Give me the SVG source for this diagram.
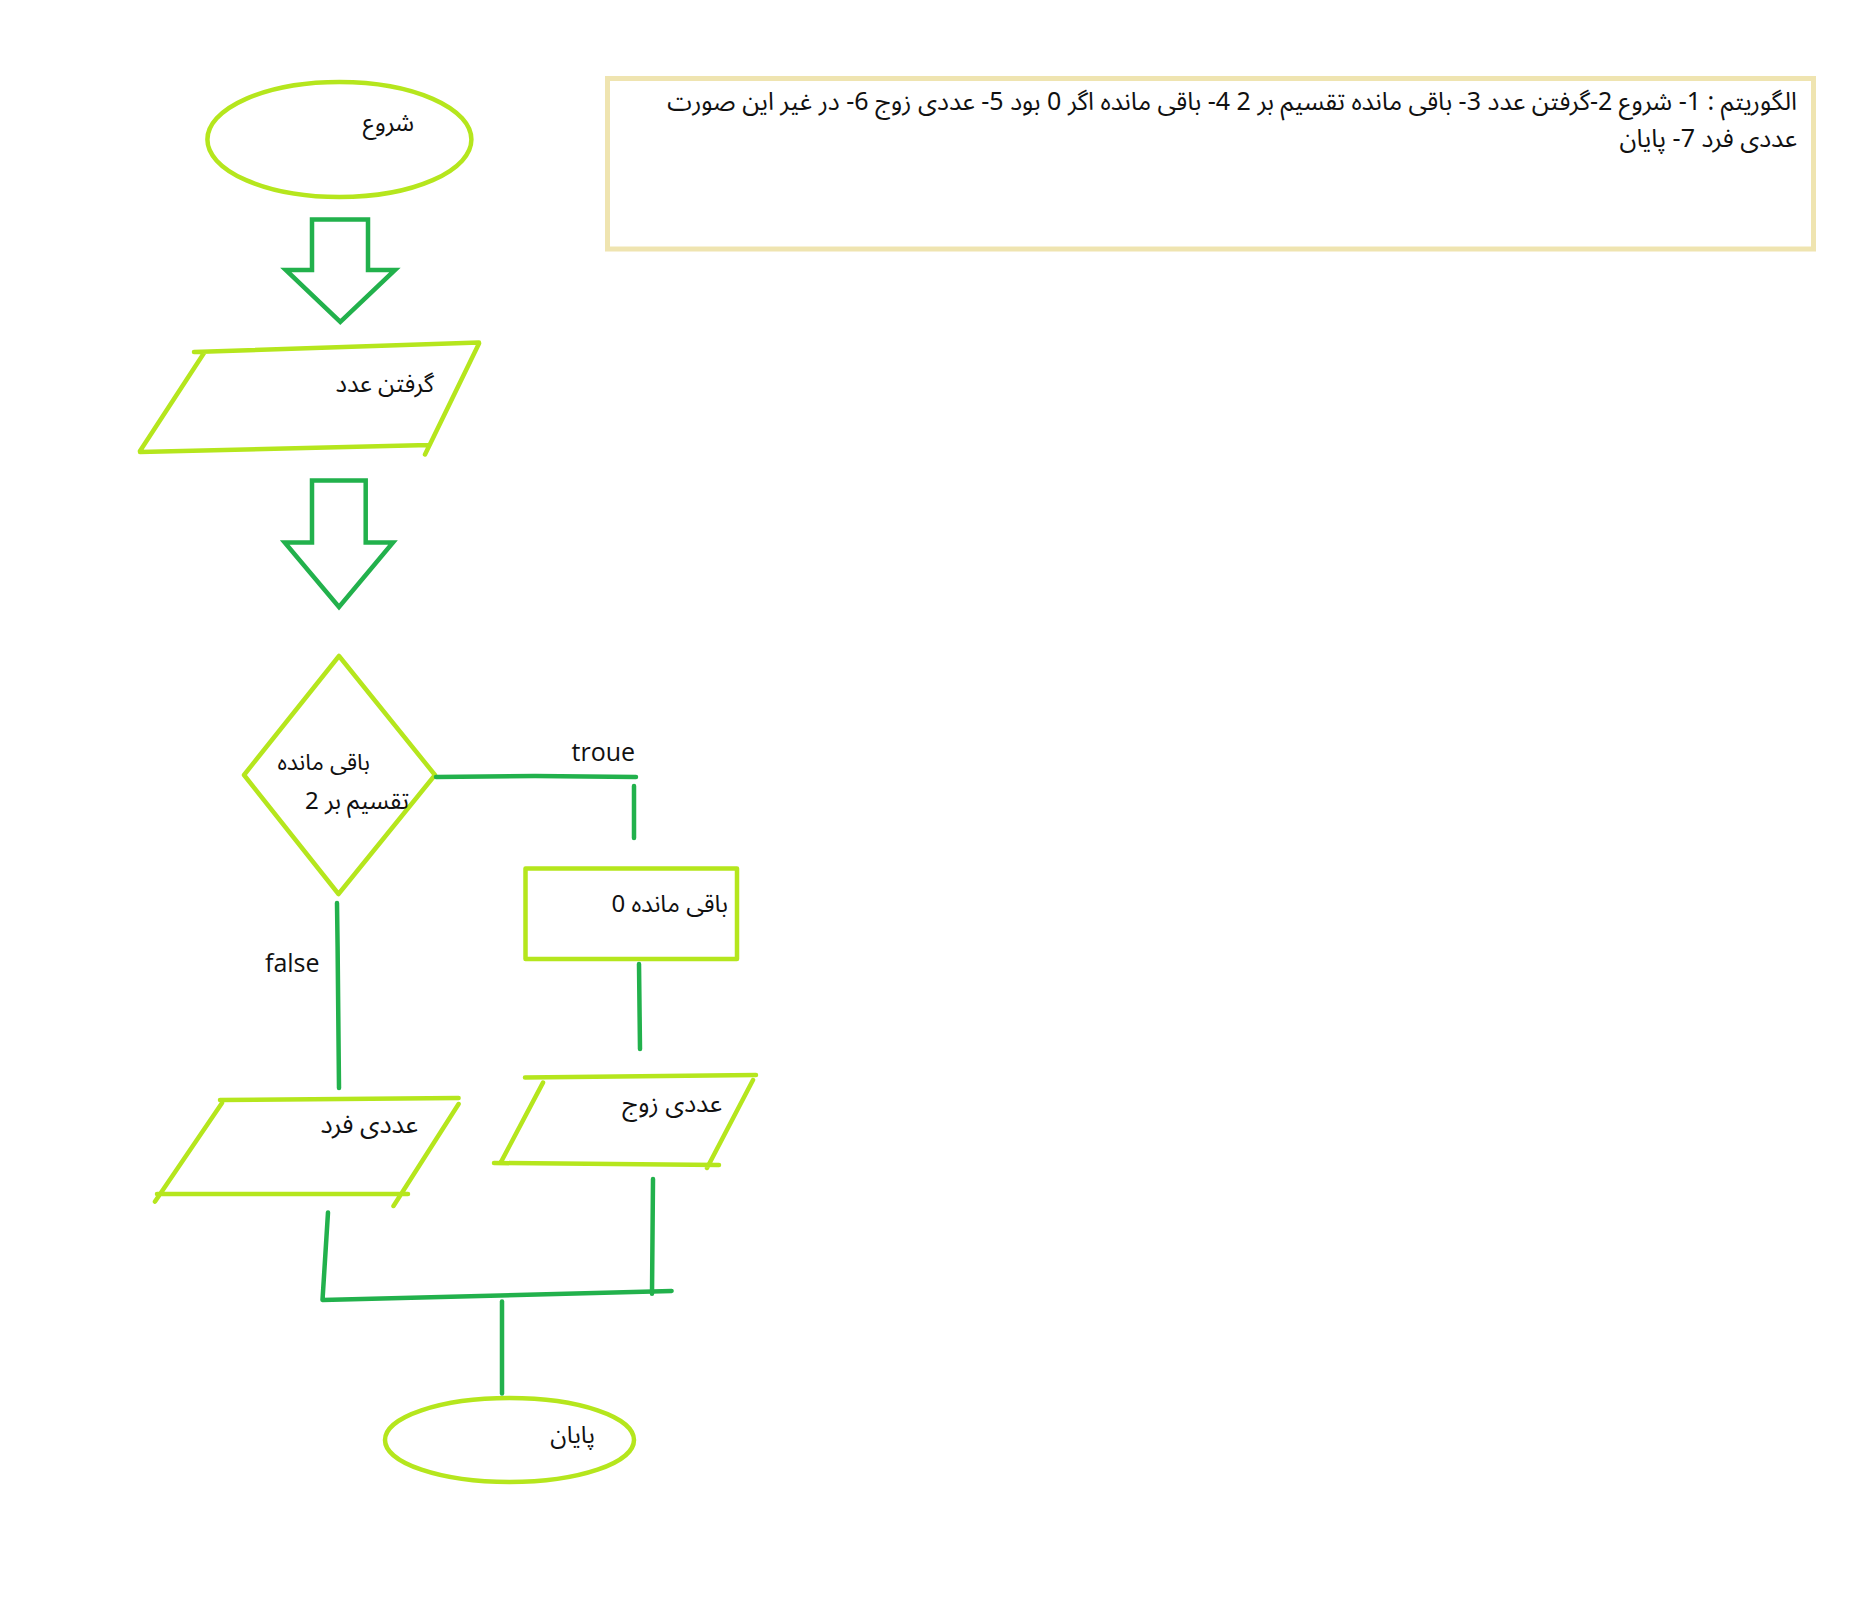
<svg xmlns="http://www.w3.org/2000/svg" width="1856" height="1621" viewBox="0 0 1856 1621">
<style>
.node{fill:none;stroke:#b5e61d;stroke-width:4.5;stroke-linecap:round;stroke-linejoin:round}
.arrow{fill:none;stroke:#22b14c;stroke-width:4.5;stroke-linejoin:miter}
.conn{fill:none;stroke:#22b14c;stroke-width:4.5;stroke-linecap:round;stroke-linejoin:round}
.fa{font-family:"Noto Sans Arabic","DejaVu Sans","Noto Sans",sans-serif;fill:#111;direction:rtl}
.en{font-family:"Open Sans","Noto Sans",sans-serif;fill:#111;font-size:25px}
</style>
<rect width="1856" height="1621" fill="#fff"/>
<g id="algorithm-box">
<rect x="607.5" y="78.5" width="1206" height="170.5" fill="none" stroke="#efe4b0" stroke-width="5"/>
<text class="fa" x="1797" y="110" font-size="25" text-anchor="start">الگوریتم : 1- شروع 2-گرفتن عدد 3- باقی مانده تقسیم بر 2 4- باقی مانده اگر 0 بود 5- عددی زوج 6- در غیر این صورت</text>
<text class="fa" x="1797" y="147" font-size="25" text-anchor="start">عددی فرد 7- پایان</text>
</g>
<g id="start">
<ellipse class="node" cx="339.4" cy="139.5" rx="132" ry="57.5"/>
<text class="fa" x="414" y="131" font-size="24" text-anchor="start">شروع</text>
</g>
<g id="arrow1">
<polygon class="arrow" points="312,219.5 368,219.5 368,270 395,270 340.3,321.8 285.8,270 312,270"/>
</g>
<g id="input">
<path class="node" d="M194,352 L479,342.5 M204,353 L140,451 M140,452 L429,445 M479,343.5 L425,454.5"/>
<text class="fa" x="434" y="392" font-size="24" text-anchor="start">گرفتن عدد</text>
</g>
<g id="arrow2">
<polygon class="arrow" points="312,480.4 365.7,480.4 365.7,542.4 393,542.4 339,607 284.7,542.4 312,542.4"/>
</g>
<g id="decision">
<polygon class="node" points="339,656 435,775 338.5,894 244,775"/>
<text class="fa" x="370" y="770" font-size="23" text-anchor="start">باقی مانده</text>
<text class="fa" x="409" y="809" font-size="24" text-anchor="start">تقسیم بر 2</text>
</g>
<g id="remainder0">
<rect class="node" x="525.5" y="868.5" width="211.5" height="90.5" stroke-linejoin="miter"/>
<text class="fa" x="728" y="912" font-size="24" text-anchor="start">باقی مانده 0</text>
</g>
<g id="even">
<path class="node" d="M525,1077.5 L756,1075 M543,1082.6 L501,1162 M494,1163 L719,1165 M753,1080 L707,1168"/>
<text class="fa" x="722" y="1112" font-size="25" text-anchor="start">عددی زوج</text>
</g>
<g id="odd">
<path class="node" d="M220,1100 L458.6,1098 M222,1103 L155,1201.6 M157,1194 L408,1194 M458.6,1104 L393.5,1206"/>
<text class="fa" x="418" y="1133" font-size="25.5" text-anchor="start">عددی فرد</text>
</g>
<g id="end">
<ellipse class="node" cx="509.5" cy="1440" rx="124.5" ry="42"/>
<text class="fa" x="595" y="1443" font-size="24" text-anchor="start">پایان</text>
</g>
<g id="connectors">
<path class="conn" d="M436,777 L535,776 L636,777"/>
<path class="conn" d="M634,786 L634,838"/>
<text class="en" x="571.5" y="761">troue</text>
<path class="conn" d="M337,903 L337.6,947 L339,1088"/>
<text class="en" x="265" y="972">false</text>
<path class="conn" d="M639,964 L640,1049"/>
<path class="conn" d="M328,1212.5 L322.5,1300 L671.6,1291"/>
<path class="conn" d="M653,1179 L652,1293.7"/>
<path class="conn" d="M502,1301.5 L502,1393.5"/>
</g>
</svg>
